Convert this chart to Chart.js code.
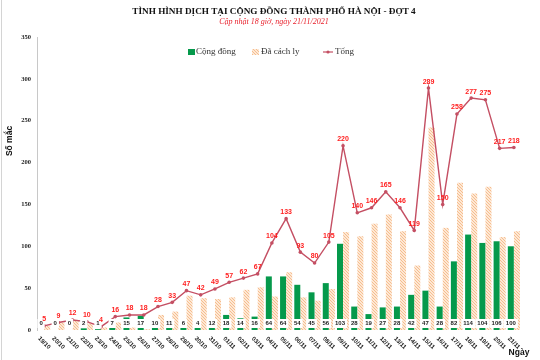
<!DOCTYPE html>
<html>
<head>
<meta charset="utf-8">
<script src="https://cdn.jsdelivr.net/npm/chart.js@4.4.0/dist/chart.umd.min.js"></script>
<style>
  html, body { margin: 0; padding: 0; background: #fff; }
  #wrap { width: 540px; height: 360px; position: relative; }
</style>
</head>
<body>
<div id="wrap"><canvas id="chart" width="540" height="360"></canvas></div>
<script>
// data
var days = ['19/10','20/10','21/10','22/10','23/10','24/10','25/10','26/10','27/10','28/10',
  '29/10','30/10','31/10','01/11','02/11','03/11','04/11','05/11','06/11','07/11','08/11',
  '09/11','10/11','11/11','12/11','13/11','14/11','15/11','16/11','17/11','18/11','19/11',
  '20/11','21/11'];
var congDong = [0,0,0,2,1,7,15,17,10,11,6,4,12,18,14,16,64,64,54,45,56,103,28,19,27,28,42,47,28,82,114,104,106,100];
var daCachLy = [5,9,12,8,3,9,3,1,18,22,41,38,37,39,48,51,40,69,39,35,49,117,112,127,138,118,77,242,122,176,163,171,111,118];
var tong = [5,9,12,10,4,16,18,18,28,33,47,42,49,57,62,67,104,133,93,80,105,220,140,146,165,146,119,289,150,258,277,275,217,218];
var yMax = 350, yStep = 50;

var GREEN = '#05994b', LINE = '#c44f63', RED = '#ff1f1f';

function hatch() {
  var c = document.createElement('canvas');
  c.width = 3; c.height = 3;
  var g = c.getContext('2d');
  g.fillStyle = '#fde8d5';
  g.fillRect(0, 0, 3, 3);
  g.fillStyle = '#f6bd8e';
  g.fillRect(0, 0, 1, 1);
  g.fillRect(1, 1, 1, 1);
  g.fillRect(2, 2, 1, 1);
  return g.createPattern(c, 'repeat');
}
var orangeFill = hatch();

var overlay = {
  id: 'overlay',
  afterDatasetsDraw: function(chart) {
    var ctx = chart.ctx, area = chart.chartArea;
    ctx.save();
    // community count boxes at the foot of the bars
    ctx.font = 'bold 6px "Liberation Sans"';
    ctx.textAlign = 'center';
    ctx.textBaseline = 'middle';
    chart.getDatasetMeta(0).data.forEach(function(bar, i) {
      var t = String(congDong[i]);
      var w = ctx.measureText(t).width + 4;
      ctx.fillStyle = '#fff';
      ctx.fillRect(bar.x - w / 2, area.bottom - 11, w, 9);
      ctx.fillStyle = '#222';
      ctx.fillText(t, bar.x, area.bottom - 6.5);
    });
    // totals above the line
    ctx.font = 'bold 7px "Liberation Sans"';
    ctx.fillStyle = RED;
    ctx.textBaseline = 'bottom';
    chart.getDatasetMeta(2).data.forEach(function(pt, i) {
      ctx.fillText(String(tong[i]), pt.x, pt.y - 3);
    });
    ctx.restore();
  },
  afterDraw: function(chart) {
    var ctx = chart.ctx, area = chart.chartArea, xs = chart.scales.x;
    ctx.save();
    // frame line on the left
    ctx.strokeStyle = '#d4d4d4';
    ctx.lineWidth = 1;
    ctx.beginPath(); ctx.moveTo(1.5, 0); ctx.lineTo(1.5, 360); ctx.stroke();

    // title + subtitle
    ctx.textAlign = 'center';
    ctx.textBaseline = 'middle';
    ctx.fillStyle = '#111';
    ctx.font = 'bold 9.2px "Liberation Serif"';
    ctx.fillText('TÌNH HÌNH DỊCH TẠI CỘNG ĐỒNG THÀNH PHỐ HÀ NỘI - ĐỢT 4', 274, 12);
    ctx.fillStyle = '#e8232e';
    ctx.font = 'italic 8px "Liberation Serif"';
    ctx.fillText('Cập nhật 18 giờ, ngày 21/11/2021', 274, 22);

    // legend
    ctx.font = '9px "Liberation Serif"';
    ctx.textAlign = 'left';
    ctx.fillStyle = GREEN;
    ctx.fillRect(188, 49, 7, 6);
    ctx.fillStyle = '#333';
    ctx.fillText('Cộng đồng', 196, 52);
    ctx.fillStyle = orangeFill;
    ctx.fillRect(252, 49, 7, 6);
    ctx.fillStyle = '#333';
    ctx.fillText('Đã cách ly', 261, 52);
    ctx.strokeStyle = LINE;
    ctx.lineWidth = 1.2;
    ctx.beginPath(); ctx.moveTo(323, 52); ctx.lineTo(333, 52); ctx.stroke();
    ctx.fillStyle = LINE;
    ctx.beginPath(); ctx.arc(328, 52, 1.6, 0, Math.PI * 2); ctx.fill();
    ctx.fillStyle = '#333';
    ctx.fillText('Tổng', 335, 52);

    // axis titles
    ctx.fillStyle = '#111';
    ctx.font = 'bold 8.5px "Liberation Sans"';
    ctx.save();
    ctx.translate(10, 141);
    ctx.rotate(-Math.PI / 2);
    ctx.textAlign = 'center';
    ctx.fillText('Số mắc', 0, 0);
    ctx.restore();
    ctx.textAlign = 'center';
    ctx.fillText('Ngày', 519, 353);

    // day labels, turned 45 degrees
    ctx.font = 'bold 6px "Liberation Sans"';
    ctx.fillStyle = '#222';
    days.forEach(function(d, i) {
      var x = xs.getPixelForTick(i);
      ctx.save();
      ctx.translate(x, area.bottom + 13);
      ctx.rotate(Math.PI / 4);
      ctx.textAlign = 'center';
      ctx.fillText(d, 0, 0);
      ctx.restore();
    });
    ctx.restore();
  }
};

new Chart(document.getElementById('chart').getContext('2d'), {
  type: 'bar',
  data: {
    labels: days,
    datasets: [
      { label: 'Cộng đồng', data: congDong, backgroundColor: GREEN, order: 1 },
      { label: 'Đã cách ly', data: daCachLy, backgroundColor: orangeFill, order: 2 },
      { type: 'line', label: 'Tổng', data: tong, borderColor: LINE, backgroundColor: LINE,
        borderWidth: 1.4, pointRadius: 1.8, pointBackgroundColor: LINE, pointBorderWidth: 0,
        tension: 0, order: 0 }
    ]
  },
  options: {
    responsive: false,
    animation: false,
    layout: { padding: { left: 0, right: 19, top: 37, bottom: 30 } },
    datasets: { bar: { categoryPercentage: 0.86, barPercentage: 0.98 } },
    scales: {
      x: {
        afterFit: function(s) { s.height = 0; },
        grid: { display: false },
        border: { display: false },
        ticks: { display: false }
      },
      y: {
        min: 0, max: yMax,
        afterFit: function(s) { s.width = 37; },
        grid: { display: false, drawTicks: false },
        border: { display: true, color: '#c8c8c8', width: 1 },
        ticks: { stepSize: yStep, padding: 6, color: '#222',
          font: { family: 'Liberation Serif', size: 6.5, weight: 'bold' } }
      }
    },
    plugins: {
      legend: { display: false },
      title: { display: false },
      tooltip: { enabled: false }
    }
  },
  plugins: [overlay]
});
</script>
</body>
</html>
